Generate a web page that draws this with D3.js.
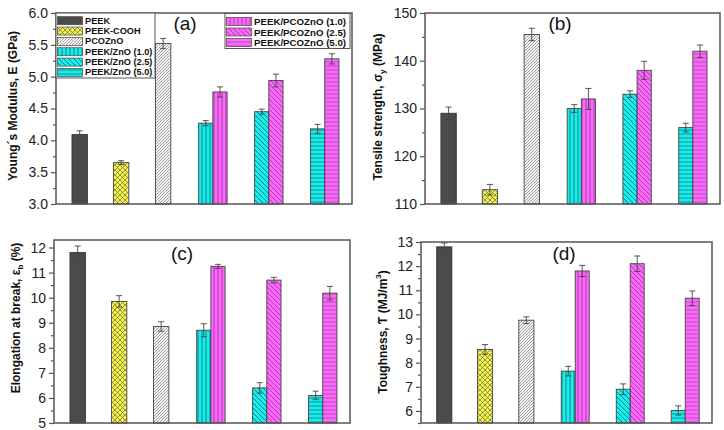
<!DOCTYPE html>
<html><head><meta charset="utf-8">
<script src="https://cdn.jsdelivr.net/npm/d3@7"></script>
<style>body{margin:0;background:#fff}svg{display:block}</style>
</head><body>
<svg id="chart" width="724" height="430"></svg>
<script>
// ---------- data ----------
const seriesNames = ["PEEK","PEEK-COOH","PCOZnO","PEEK/ZnO (1.0)","PEEK/ZnO (2.5)","PEEK/ZnO (5.0)","PEEK/PCOZnO (1.0)","PEEK/PCOZnO (2.5)","PEEK/PCOZnO (5.0)"];
const seriesGroup = [0,1,2,3,4,5,3,4,5];
const seriesSide = ["single","single","single","left","left","left","right","right","right"];
const modulus = [4.09,3.65,5.52,4.27,4.45,4.18,4.76,4.94,5.28];
const modulusErr = [0.06,0.03,0.08,0.04,0.04,0.07,0.08,0.10,0.08];
const strength = [129,113,145.5,130,133,126,132,138,142];
const strengthErr = [1.3,1.1,1.3,0.8,0.7,0.9,2.2,1.9,1.3];
const elongation = [11.8,9.85,8.85,8.7,6.4,6.1,11.25,10.7,10.18];
const elongationErr = [0.26,0.23,0.19,0.26,0.21,0.17,0.08,0.11,0.27];
const toughness = [12.8,8.55,9.76,7.65,6.9,6.02,11.8,12.1,10.67];
const toughnessErr = [0.16,0.2,0.14,0.2,0.22,0.19,0.23,0.32,0.3];
const modulusTicks = [3.0,3.5,4.0,4.5,5.0,5.5,6.0];
const strengthTicks = [110,120,130,140,150];
const elongationTicks = [5,6,7,8,9,10,11,12];
const toughnessTicks = [6,7,8,9,10,11,12,13];

// ---------- layout ----------
const groupCenter = [0.08,0.22,0.362,0.53,0.719,0.908];
const singleW = 0.052, pairW = 0.048;

const svg = d3.select("#chart");
const defs = svg.append("defs");

function pat(id, w, h, bg, lines, stroke, sw){
  const p = defs.append("pattern").attr("id",id).attr("patternUnits","userSpaceOnUse")
    .attr("width",w).attr("height",h);
  p.append("rect").attr("width",w).attr("height",h).attr("fill",bg);
  if(lines) p.append("path").attr("d",lines).attr("stroke",stroke).attr("stroke-width",sw).attr("fill","none");
}
const CY = "#10f2f2", MG = "#ff66ff";
pat("p0",4,4,"#4b4b4b",null);
pat("p1",5,5,"#f4f250","M0,0L5,5M5,0L0,5M-1,4L1,6M4,-1L6,1M-1,1L1,-1M4,6L6,4","#6a6a30",0.7);
pat("p2",3,3,"#f4f4f4","M0,3L3,0M-1,1L1,-1M2,4L4,2","#8a8a8a",0.8);
pat("p3",4,4,CY,"M2,0L2,4","#2a5a5a",0.8);
pat("p4",5,5,CY,"M0,0L5,5M-1,4L1,6M4,-1L6,1","#2a5a5a",0.8);
pat("p5",4,4,CY,"M0,2L4,2","#2a6a6a",0.8);
pat("p6",4,4,MG,"M2,0L2,4","#8a3a8a",0.8);
pat("p7",5,5,MG,"M0,0L5,5M-1,4L1,6M4,-1L6,1","#8a3a8a",0.8);
pat("p8",4,4,MG,"M0,2L4,2","#9a4a9a",0.8);

const FONT = "'Liberation Sans', Arial, Helvetica, sans-serif";
const panels = [
  {x0:56,x1:352,y0:13,y1:204,dom:[3,6],vals:modulus,errs:modulusErr,ticks:modulusTicks,fmt:d3.format(".1f"),minor:0.25,
   label:"(a)",lx:185,ly:30,tx:13,ty:106,title:[["Young´s Modulus, E (GPa)",null]]},
  {x0:425,x1:720,y0:13,y1:204,dom:[110,150],vals:strength,errs:strengthErr,ticks:strengthTicks,fmt:d3.format("d"),minor:5,
   label:"(b)",lx:560,ly:30,tx:378,ty:107,title:[["Tensile  strength, σ",null],["y","sub"],[" (MPa)",null]]},
  {x0:54,x1:350,y0:240,y1:423,dom:[5,12.3],vals:elongation,errs:elongationErr,ticks:elongationTicks,fmt:d3.format("d"),minor:0.5,
   label:"(c)",lx:182,ly:260,tx:16,ty:318,title:[["Elongation at break, ε",null],["b","sub"],[" (%)",null]]},
  {x0:421,x1:712,y0:242,y1:423,dom:[5.5,13],vals:toughness,errs:toughnessErr,ticks:toughnessTicks,fmt:d3.format("d"),minor:0.5,
   label:"(d)",lx:564,ly:260,tx:383,ty:332,title:[["Toughness, Ƭ (MJ/m",null],["3","super"],[")",null]]}
];

panels.forEach(P=>{
  const g = svg.append("g");
  const x = d3.scaleLinear().domain([0,1]).range([P.x0,P.x1]);
  const y = d3.scaleLinear().domain(P.dom).range([P.y1,P.y0]);
  const pxW = x(1)-x(0);
  const minorVals = d3.range(P.dom[0], P.dom[1]+1e-9, P.minor).filter(v=>!P.ticks.some(t=>Math.abs(t-v)<1e-9));
  g.append("g").attr("transform",`translate(${P.x0},0)`)
    .call(d3.axisLeft(y).tickValues(minorVals).tickSize(3).tickFormat(""))
    .call(a=>{a.select(".domain").remove(); a.selectAll("line").attr("stroke","#555").attr("stroke-width",1.2);});
  g.append("g").attr("transform",`translate(${P.x0},0)`)
    .call(d3.axisLeft(y).tickValues(P.ticks).tickSize(5).tickPadding(3).tickFormat(P.fmt))
    .call(a=>{a.select(".domain").remove();
      a.selectAll("line").attr("stroke","#555").attr("stroke-width",1.2);
      a.selectAll("text").attr("font-family",FONT).attr("font-size",14).attr("fill","#222");});
  const data = P.vals.map((v,i)=>({v,e:P.errs[i],i}));
  const bx = d=>{
    const c = x(groupCenter[seriesGroup[d.i]]);
    if(seriesSide[d.i]==="single") return c - singleW*pxW/2;
    if(seriesSide[d.i]==="left") return c - pairW*pxW;
    return c;
  };
  const bw = d=> (seriesSide[d.i]==="single"?singleW:pairW)*pxW;
  g.selectAll("rect.bar").data(data).join("rect").attr("class","bar")
    .attr("x",bx).attr("width",bw)
    .attr("y",d=>y(d.v)).attr("height",d=>y(P.dom[0])-y(d.v))
    .attr("fill",d=>`url(#p${d.i})`).attr("stroke",d=>d.i===0?"#333":"#444").attr("stroke-width",0.9);
  const eg = g.selectAll("g.err").data(data).join("g").attr("class","err")
    .attr("stroke","#444").attr("stroke-width",0.9);
  eg.append("line").attr("x1",d=>bx(d)+bw(d)/2).attr("x2",d=>bx(d)+bw(d)/2)
    .attr("y1",d=>y(d.v+d.e)).attr("y2",d=>y(d.v-d.e));
  eg.append("line").attr("x1",d=>bx(d)+bw(d)/2-3).attr("x2",d=>bx(d)+bw(d)/2+3)
    .attr("y1",d=>y(d.v+d.e)).attr("y2",d=>y(d.v+d.e));
  eg.append("line").attr("x1",d=>bx(d)+bw(d)/2-3).attr("x2",d=>bx(d)+bw(d)/2+3)
    .attr("y1",d=>y(d.v-d.e)).attr("y2",d=>y(d.v-d.e));
  g.append("rect").attr("x",P.x0).attr("y",P.y0).attr("width",P.x1-P.x0).attr("height",P.y1-P.y0)
    .attr("fill","none").attr("stroke","#555").attr("stroke-width",1.5);
  g.append("text").attr("x",P.lx).attr("y",P.ly).attr("text-anchor","middle")
    .attr("font-family",FONT).attr("font-size",19).attr("fill","#111").text(P.label);
  const t = g.append("text").attr("transform",`translate(${P.tx},${P.ty}) rotate(-90)`)
    .attr("text-anchor","middle").attr("dominant-baseline","central")
    .attr("font-family",FONT).attr("font-size",12).attr("font-weight","bold").attr("fill","#111");
  P.title.forEach(([s,shift])=>{
    const ts = t.append("tspan").text(s);
    if(shift){ ts.attr("font-size",8).attr("baseline-shift",shift); }
  });
});

// ---------- legends (panel a) ----------
function legend(items, bx0, bx1, by0, by1, rowY0, rowStep, fs){
  const lg = svg.append("g");
  lg.append("rect").attr("x",bx0).attr("y",by0).attr("width",bx1-bx0).attr("height",by1-by0)
    .attr("fill","#fff").attr("stroke","#555").attr("stroke-width",1);
  items.forEach((si,k)=>{
    const cy = rowY0 + k*rowStep;
    lg.append("rect").attr("x",bx0+1.5).attr("y",cy-4).attr("width",25).attr("height",8)
      .attr("fill",`url(#p${si})`).attr("stroke","#444").attr("stroke-width",0.7);
    lg.append("text").attr("x",bx0+29).attr("y",cy).attr("dominant-baseline","central")
      .attr("font-family",FONT).attr("font-size",fs).attr("font-weight","bold").attr("fill","#111")
      .text(seriesNames[si]);
  });
}
legend([0,1,2,3,4,5], 56, 155, 13, 78, 20.7, 10.35, 9.2);
legend([6,7,8], 225, 350, 13.5, 48.5, 21.5, 10.5, 9.7);
</script>
</body></html>
